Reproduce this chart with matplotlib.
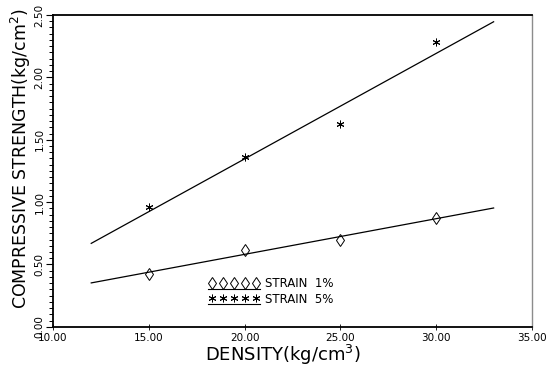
import numpy as np
import matplotlib
matplotlib.use("Agg")
import matplotlib.pyplot as plt
from matplotlib.lines import Line2D
from matplotlib.legend_handler import HandlerBase
from matplotlib.ticker import MultipleLocator, FormatStrFormatter

# data
density = [15, 20, 25, 30]
strain_1 = [0.42, 0.62, 0.70, 0.87]
strain_5 = [0.96, 1.36, 1.63, 2.28]
fit_range = [12, 33]
x_ticks = [10, 15, 20, 25, 30, 35]
y_ticks = [0.0, 0.5, 1.0, 1.5, 2.0, 2.5]


class UnderlinedMarkers(HandlerBase):
    # five markers sitting on a short underline, like the old plotter legend
    def create_artists(self, legend, orig_handle, xdescent, ydescent,
                       width, height, fontsize, trans):
        xs = np.linspace(-xdescent + width * 0.08, -xdescent + width * 0.92, 5)
        ys = np.full(5, -ydescent + height * 0.5)
        pts = Line2D(xs, ys, ls="none", marker=orig_handle.get_marker(),
                     ms=orig_handle.get_markersize(), color="k",
                     mfc="none", mew=0.7)
        ul = Line2D([-xdescent, -xdescent + width],
                    [-ydescent - 1, -ydescent - 1], color="k", lw=0.8)
        pts.set_transform(trans)
        ul.set_transform(trans)
        return [pts, ul]


fig = plt.figure(figsize=(5.57, 3.66), dpi=100)
ax = fig.add_axes([0.095, 0.107, 0.86, 0.852])

xs = np.array(fit_range, dtype=float)
for vals in (strain_1, strain_5):
    k, b = np.polyfit(density, vals, 1)
    ax.plot(xs, k * xs + b, color="k", lw=0.9)

h1, = ax.plot(density, strain_1, ls="none", marker="d", ms=6.5, mfc="none",
              mec="k", mew=0.7)
h5, = ax.plot(density, strain_5, ls="none", marker=(6, 2, 0), ms=5.5,
              color="k", mew=0.7)

ax.set_xlim(10, 35)
ax.set_ylim(0, 2.5)
ax.set_xticks(x_ticks)
ax.set_yticks(y_ticks)
ax.xaxis.set_major_formatter(FormatStrFormatter("%.2f"))
ax.yaxis.set_major_formatter(FormatStrFormatter("%.2f"))
ax.yaxis.set_minor_locator(MultipleLocator(0.05))
ax.tick_params(axis="x", direction="inout", length=5, width=0.6,
               labelsize=7.5, pad=2)
ax.tick_params(axis="y", which="major", direction="out", length=5,
               width=0.8, labelsize=7.5, pad=1)
ax.tick_params(axis="y", which="minor", direction="out", length=3, width=0.7)
for lab in ax.get_yticklabels():
    lab.set_rotation(90)
    lab.set_va("center")

for side in ("left", "bottom", "top"):
    ax.spines[side].set_linewidth(1.3)
ax.spines["right"].set_color("0.55")
ax.spines["right"].set_linewidth(1.0)

ax.set_xlabel(r"DENSITY(kg/cm$^3$)", fontsize=13, labelpad=0, x=0.48)
ax.set_ylabel(r"COMPRESSIVE STRENGTH(kg/cm$^2$)", fontsize=12.5, labelpad=1,
              y=0.54)

ax.legend([h1, h5], ["STRAIN  1%", "STRAIN  5%"],
          handler_map={Line2D: UnderlinedMarkers()},
          loc="upper left", bbox_to_anchor=(0.312, 0.178), frameon=False,
          fontsize=8.5, handlelength=4.4, handletextpad=0.4,
          labelspacing=0.2, borderpad=0)

fig.savefig("out.png", dpi=100)
